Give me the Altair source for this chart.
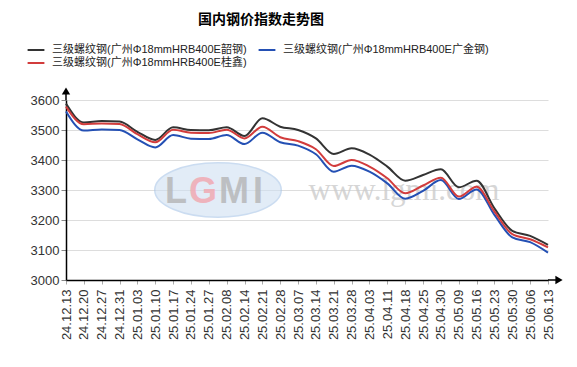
import altair as alt
import pandas as pd

dates = ["24.12.13","24.12.20","24.12.27","24.12.31","25.01.03","25.01.10","25.01.17",
         "25.01.24","25.01.27","25.02.08","25.02.14","25.02.21","25.02.28","25.03.07",
         "25.03.14","25.03.21","25.03.28","25.04.03","25.04.11","25.04.18","25.04.25",
         "25.04.30","25.05.09","25.05.16","25.05.23","25.05.30","25.06.06","25.06.13"]

series_names = ["三级螺纹钢(广州Φ18mmHRB400E韶钢)",
                "三级螺纹钢(广州Φ18mmHRB400E广金钢)",
                "三级螺纹钢(广州Φ18mmHRB400E桂鑫)"]
series_colors = ["#333333", "#2450b4", "#d23c3c"]

shaogang = [3588, 3525, 3530, 3528, 3494, 3467, 3509, 3500, 3499, 3509, 3480, 3539, 3511, 3500,
            3472, 3420, 3439, 3418, 3378, 3331, 3350, 3369, 3309, 3331, 3239, 3164, 3147, 3117]
guangjin = [3562, 3498, 3502, 3500, 3469, 3442, 3483, 3471, 3470, 3483, 3453, 3491, 3459, 3448,
            3419, 3361, 3381, 3361, 3322, 3271, 3297, 3333, 3270, 3302, 3217, 3142, 3126, 3091]
guixin = [3578, 3519, 3522, 3520, 3486, 3459, 3501, 3491, 3490, 3501, 3472, 3511, 3476, 3463,
          3436, 3380, 3400, 3378, 3339, 3289, 3315, 3341, 3278, 3311, 3228, 3153, 3136, 3109]

y_ticks = [3000, 3100, 3200, 3300, 3400, 3500, 3600]

logo_letters = ["L", "G", "M", "I"]
logo_colors = ["#b5b5b5", "#f2a6ae", "#b5b5b5", "#b5b5b5"]

rows = []
for name, vals in zip(series_names, [shaogang, guangjin, guixin]):
    for d, v in zip(dates, vals):
        rows.append({"date": d, "series": name, "value": v})
df = pd.DataFrame(rows)

W, H = 482, 180
FONT = "Liberation Sans, Arial, Noto Sans CJK SC, sans-serif"

base = alt.Chart(df)

lines = base.mark_line(strokeWidth=2, interpolate="monotone").encode(
    x=alt.X("date:N", sort=dates, scale=alt.Scale(type="point", padding=0),
            axis=alt.Axis(title=None, labelAngle=-90, labelFontSize=13, labelColor="#333333",
                          labelAlign="right", labelBaseline="middle",
                          tickSize=4, tickColor="#aaaaaa", labelPadding=5,
                          domainColor="#000000", domainWidth=1.5, grid=False)),
    y=alt.Y("value:Q", scale=alt.Scale(domain=[3000, 3600], nice=False, zero=False),
            axis=alt.Axis(title=None, values=y_ticks, format="d", labelFontSize=13,
                          labelColor="#333333",
                          tickSize=5, tickColor="#888888", labelPadding=2,
                          domainColor="#000000", domainWidth=1.5,
                          grid=True, gridColor="#dddddd")),
    color=alt.Color("series:N", sort=series_names,
                    scale=alt.Scale(domain=series_names, range=series_colors),
                    legend=alt.Legend(title=None, orient="none", legendX=-37, legendY=-57,
                                      direction="horizontal", columns=2,
                                      symbolType="M -1.4 0 L 1.4 0", symbolStrokeWidth=2,
                                      symbolSize=144, labelFontSize=11, labelColor="#222222",
                                      labelOffset=9, columnPadding=7, rowPadding=1,
                                      labelLimit=400)),
)

one = pd.DataFrame({"k": [0]})
deco = alt.Chart(one)

ellipse = deco.mark_point(
    shape="M -1 0 A 1 0.43 0 1 1 1 0 A 1 0.43 0 1 1 -1 0 Z",
    filled=True, fill="#cfe0f2", stroke="#a9c6e8", strokeWidth=1.5, opacity=0.6, size=16000
).encode(x=alt.value(152), y=alt.value(90))

logo_layers = []
for letter, col, xpos in zip(logo_letters, logo_colors, [110, 137, 168, 192]):
    logo_layers.append(
        deco.mark_text(text=letter, fontSize=36, fontWeight="bold", color=col, opacity=0.8,
                       font="Liberation Sans").encode(
            x=alt.value(xpos), y=alt.value(92)))

www = deco.mark_text(text="www.lgmi.com", fontSize=31, font="Liberation Serif, DejaVu Serif",
                     color="#cccccc", opacity=0.8).encode(x=alt.value(338), y=alt.value(91))

title = deco.mark_text(text="国内钢价指数走势图", fontSize=14, fontWeight="bold",
                       color="#000000", font="Noto Sans CJK SC").encode(
    x=alt.value(195), y=alt.value(-80))

y_ext = deco.mark_rule(color="#000000", strokeWidth=1.5).encode(
    x=alt.value(0), y=alt.value(0), y2=alt.value(-7))
x_ext = deco.mark_rule(color="#000000", strokeWidth=1.5).encode(
    x=alt.value(W), x2=alt.value(W + 10), y=alt.value(H))
y_arrow = deco.mark_point(shape="triangle-up", filled=True, color="#000000", size=70, opacity=1).encode(
    x=alt.value(0), y=alt.value(-9))
x_arrow = deco.mark_point(shape="triangle-right", filled=True, color="#000000", size=70, opacity=1).encode(
    x=alt.value(W + 11), y=alt.value(H))

chart = alt.layer(ellipse, *logo_layers, www, lines, title, y_ext, x_ext, y_arrow, x_arrow).properties(
    width=W, height=H,
    padding={"left": 58, "top": 92, "right": 21, "bottom": 79},
    autosize=alt.AutoSizeParams(type="none"),
).configure(font=FONT).configure_view(stroke=None)

chart.save("out.html", embed_options={"renderer": "svg", "actions": False})
